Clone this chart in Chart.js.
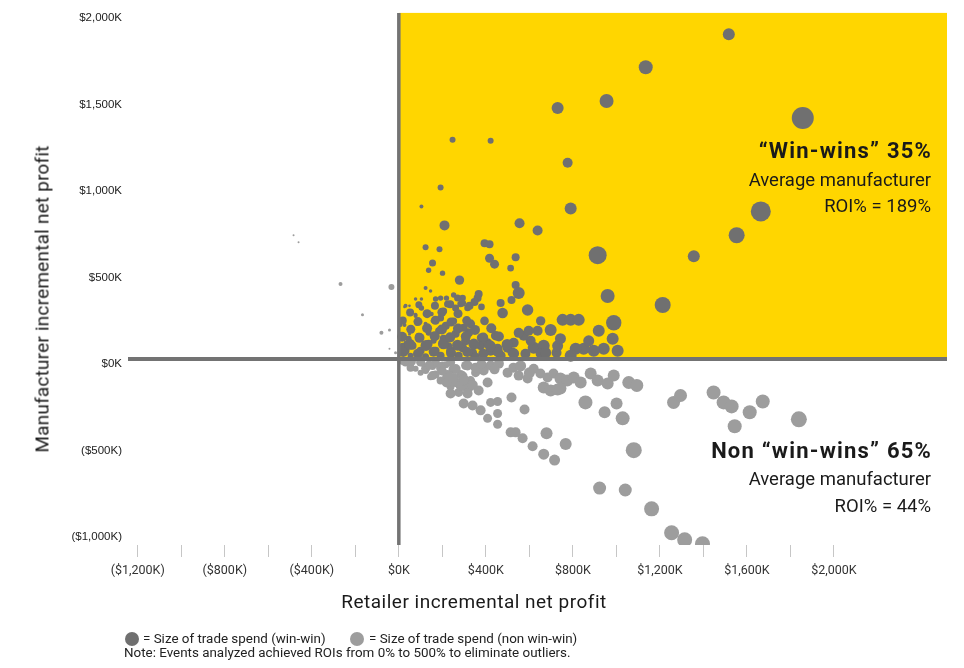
<!DOCTYPE html>
<html>
<head>
<meta charset="utf-8">
<title>Trade promotion win-wins</title>
<script src="https://cdn.jsdelivr.net/npm/chart.js"></script>
<style>
  body { margin: 0; background: #fff; }
  #wrap { position: relative; width: 964px; height: 668px; font-family: Roboto, 'Noto Sans', sans-serif; color: #1a1a1a; overflow: hidden; }
  #chart { position: absolute; left: 0; top: 0; }
  .txt { position: absolute; white-space: nowrap; }
  #y-title { left: 42px; top: 299px; font-size: 19px; letter-spacing: 0.2px; transform: translate(-50%, -50%) rotate(-90deg); }
  #x-title { left: 474px; top: 589px; font-size: 19px; letter-spacing: 0.5px; line-height: 26px; transform: translateX(-50%); }
  .callout { right: 33px; text-align: right; line-height: 26px; font-size: 18.5px; }
  .callout.head { font-size: 22px; font-weight: 700; letter-spacing: 1.2px; right: 32px; }
  .dot { position: absolute; width: 14px; height: 14px; border-radius: 50%; }
  .small { font-size: 13.4px; line-height: 16px; color: #222; }
</style>
</head>
<body>
<div id="wrap">
  <canvas id="chart" width="964" height="668"></canvas>

  <div class="txt" id="y-title">Manufacturer incremental net profit</div>
  <div class="txt" id="x-title">Retailer incremental net profit</div>

  <div class="txt callout head" style="top:138px">“Win-wins” 35%</div>
  <div class="txt callout" style="top:167px">Average manufacturer</div>
  <div class="txt callout" style="top:193px">ROI% = 189%</div>

  <div class="txt callout head" style="top:438px">Non “win-wins” 65%</div>
  <div class="txt callout" style="top:466px">Average manufacturer</div>
  <div class="txt callout" style="top:493px">ROI% = 44%</div>

  <div class="dot" style="left:125px; top:632px; background:#707070"></div>
  <div class="txt small" style="left:143px; top:631px">= Size of trade spend (win-win)</div>
  <div class="dot" style="left:350px; top:632px; background:#9d9d9d"></div>
  <div class="txt small" style="left:369px; top:631px">= Size of trade spend (non win-win)</div>
  <div class="txt small" style="left:124px; top:645px">Note: Events analyzed achieved ROIs from 0% to 500% to eliminate outliers.</div>
</div>

<script>
// Events, all in $K: retailer profit (x), manufacturer profit (y), trade spend (bubble size)
const winRetailer = [
  1517, 1135, 730, 955, 1857, 247, 422, 776, 192, 790, 1664, 104, 1553, 210, 555, 638, 914, 1356, 960, 1213,
  123, 187, 394, 417, 417, 440, 537, 514, 155, 137, 201, 279, 537, 551, 518, 468, 477, 592, 394, 380,
  362, 348, 293, 316, 284, 252, 219, 192, 123, 146, 77, 104, 104, 26, 49, 150, 77, 81, 8, 26,
  652, 698, 753, 790, 827, 988, 919, 983, 1006, 942, 896, 850, 813, 790, 620, 666, 606, 574, 551, 638,
  597, 528, 500, 454, 422, 445, 380, 330, 321, 307, 293, 261, 275, 252, 293, 270, 224, 206, 192, 367,
  325, 169, 100, 137, 155, 123, 90, 77, 31, 31, 63, 100, 137, 169, 206, 238, 261, 216, 183, 137,
  90, 45, 17, 54, 123, 192, 275, 339, 376, 353, 408, 468, 523, 582, 652, 725, 160, 229, 298, 49,
  17, 31,
  20, 88, 160, 240, 315, 388, 455, 530, 50, 125, 205, 270, 345, 420, 498,
  15, 95, 165, 236, 308, 388, 460, 55, 130, 198, 272, 350, 425,
  18, 88, 168, 240, 312, 52, 130, 198, 272, 92, 166, 236,
  675, 730, 873, 743
];
const winManufacturer = [
  1876, 1686, 1451, 1491, 1393, 1267, 1261, 1134, 991, 870, 853, 881, 715, 772, 784, 743, 600, 594, 364, 312,
  646, 634, 669, 663, 582, 548, 588, 525, 554, 513, 496, 456, 427, 381, 341, 324, 266, 283, 220, 301,
  352, 329, 352, 295, 318, 370, 352, 352, 410, 393, 347, 347, 295, 301, 307, 260, 255, 203, 197, 197,
  220, 168, 226, 226, 226, 209, 163, 117, 48, 59, 48, 59, 59, 19, 65, 76, 105, 134, 151, 163,
  163, 94, 65, 59, 48, 134, 122, 203, 151, 105, 65, 295, 260, 220, 324, 352, 318, 278, 237, 375,
  307, 347, 295, 260, 220, 203, 209, 249, 307, 48, 77, 48, 88, 48, 117, 48, 146, 192, 163, 151,
  134, 117, 77, 19, 13, 19, 19, 36, 77, 13, 94, 19, 36, 30, 30, 36, 105, 77, 180, 145,
  122, 94,
  40, 30, 42, 34, 40, 30, 40, 32, 85, 78, 88, 80, 86, 76, 84,
  128, 122, 132, 125, 130, 124, 130, 172, 178, 170, 176, 168, 178,
  222, 216, 224, 214, 222, 268, 262, 270, 262, 314, 308, 316,
  36, 76, 105, 117
];
const winSpend = [
  144, 196, 144, 196, 484, 36, 36, 100, 36, 144, 400, 16, 256, 100, 100, 100, 324, 144, 196, 256,
  36, 36, 64, 64, 81, 81, 64, 44, 49, 29, 29, 88, 64, 144, 64, 64, 112, 130, 74, 44,
  64, 64, 44, 44, 44, 29, 29, 29, 16, 12, 12, 12, 29, 7, 7, 21, 16, 16, 16, 16,
  88, 144, 144, 144, 144, 237, 144, 144, 144, 144, 144, 144, 144, 144, 144, 144, 100, 100, 100, 100,
  100, 100, 100, 100, 100, 88, 88, 81, 81, 81, 81, 49, 49, 49, 49, 49, 49, 49, 49, 64,
  64, 29, 16, 16, 16, 16, 16, 16, 16, 64, 64, 64, 64, 64, 64, 81, 64, 64, 49, 36,
  36, 36, 36, 36, 49, 64, 64, 81, 81, 64, 81, 100, 100, 100, 100, 100, 36, 49, 64, 9,
  36, 16,
  100, 100, 100, 100, 100, 100, 100, 100, 121, 121, 121, 121, 121, 121, 121,
  100, 100, 100, 100, 100, 100, 100, 81, 100, 100, 100, 100, 100,
  64, 81, 81, 81, 81, 64, 81, 81, 81, 49, 64, 64,
  121, 121, 121, 121
];

const nonRetailer = [
  -484, -461, -268, -34, -167, -43, -80, -43, -15,
  17, 54, 77, 109, 123, 155, 169, 201, 216, 247, 261, 284, 238, 192, 146, 100, 307, 330, 275, 216, 353, 298,
  284, 321, 238, 316, 367, 408, 298, 339, 376, 422, 454, 518, 578, 454, 408, 454, 514, 537, 569, 615,
  679, 666, 716, 767, 316, 353, 390, 422, 460, 500, 527, 551, 592, 620, 651, 684, 711, 743, 774, 804,
  836, 882, 914, 960, 988, 1057, 1094, 666, 698, 730, 858, 946, 1001, 1029, 1080, 923, 1041, 1162, 1254, 1314,
  1396, 1263, 1295, 1447, 1493, 1530, 1544, 1613, 1673, 1839, 743,
  31, 100, 169, 238, 54, 123, 192, 261, 155, 224, 293, 220, 275, 380, 440, 560, 600,
  10, 60, 140, 200, 250, 300, 340
];
const nonManufacturer = [
  715, 674, 433, 416, 255, 168, 151, 59, 36,
  -21, -36, -56, -27, -67, -44, -90, -38, -113, -61, -136, -90, -159, -125, -102, -79, -38, -125, -193, -33, -79, -159,
  -154, -165, -200, -200, -182, -136, -257, -269, -297, -251, -246, -223, -292, -315, -343, -377, -424, -424, -458, -504,
  -429, -550, -584, -492, -38, -50, -67, -38, -27, -79, -50, -96, -113, -56, -84, -107, -84, -113, -125, -107,
  -136, -84, -125, -142, -96, -136, -153, -165, -182, -176, -251, -308, -257, -343, -527, -746, -757, -866, -1004, -1045,
  -1068, -251, -211, -194, -251, -274, -389, -308, -246, -349, -171,
  -21, -18, -24, -20, -50, -56, -52, -58, -96, -92, -100, -136, -140, -30, -60, -40, -80,
  -10, -15, -35, -70, -110, -120, -150
];
const nonSpend = [
  4, 4, 16, 36, 9, 9, 16, 4, 9,
  25, 36, 36, 36, 49, 49, 64, 64, 64, 64, 81, 81, 64, 64, 49, 36, 81, 81, 81, 49, 81, 81,
  100, 100, 100, 100, 100, 100, 100, 100, 100, 81, 81, 100, 100, 81, 81, 81, 100, 100, 100, 100,
  144, 121, 121, 144, 100, 100, 100, 100, 100, 100, 100, 100, 100, 100, 100, 100, 100, 144, 144, 144,
  144, 144, 144, 144, 144, 169, 169, 144, 144, 144, 196, 144, 144, 196, 256, 169, 169, 225, 225, 225,
  225, 169, 169, 196, 196, 196, 196, 196, 196, 256, 144,
  64, 81, 81, 81, 64, 81, 81, 100, 81, 100, 100, 100, 100, 100, 100, 121, 121,
  49, 64, 81, 81, 100, 100, 100
];

const xTickValues = [-1200, -1000, -800, -600, -400, -200, 0, 200, 400, 600, 800, 1000, 1200, 1400, 1600, 1800, 2000];
const yTickValues = [-1000, -500, 0, 500, 1000, 1500, 2000];

const winColor = '#707070';
const nonColor = '#9d9d9d';
const quadrantYellow = '#ffd600';
const axisColor = '#737373';

function money(v) {
  const s = Math.abs(v).toLocaleString('en-US');
  return v < 0 ? '($' + s + 'K)' : '$' + s + 'K';
}

// bubble area follows trade spend
function toPoints(xs, ys, spend) {
  return xs.map((x, i) => ({ x: x, y: ys[i], r: Math.sqrt(spend[i]) / 2 }));
}

// yellow win-win quadrant behind the bubbles, zero lines on top
const quadrantPlugin = {
  id: 'quadrant',
  beforeDatasetsDraw(chart) {
    const { ctx, chartArea, scales } = chart;
    const x0 = scales.x.getPixelForValue(0);
    const y0 = scales.y.getPixelForValue(0);
    ctx.save();
    ctx.fillStyle = quadrantYellow;
    ctx.fillRect(x0, chartArea.top, chartArea.right - x0, y0 - chartArea.top);
    ctx.restore();
  },
  afterDatasetsDraw(chart) {
    const { ctx, chartArea, scales } = chart;
    const x0 = scales.x.getPixelForValue(0);
    const y0 = scales.y.getPixelForValue(0);
    ctx.save();
    ctx.strokeStyle = axisColor;
    ctx.lineWidth = 4;
    ctx.beginPath();
    ctx.moveTo(chartArea.left, y0);
    ctx.lineTo(chartArea.right, y0);
    ctx.stroke();
    ctx.lineWidth = 3.5;
    ctx.beginPath();
    ctx.moveTo(x0, chartArea.top);
    ctx.lineTo(x0, chartArea.bottom);
    ctx.stroke();
    ctx.restore();
  }
};

new Chart(document.getElementById('chart'), {
  type: 'bubble',
  data: {
    datasets: [
      { label: 'Non win-win', data: toPoints(nonRetailer, nonManufacturer, nonSpend), backgroundColor: nonColor, borderWidth: 0 },
      { label: 'Win-win', data: toPoints(winRetailer, winManufacturer, winSpend), backgroundColor: winColor, borderWidth: 0 }
    ]
  },
  options: {
    responsive: false,
    animation: false,
    events: [],
    layout: { padding: { top: 10, right: 17, left: 0, bottom: 0 } },
    plugins: { legend: { display: false }, tooltip: { enabled: false } },
    scales: {
      x: {
        type: 'linear',
        min: -1245,
        max: 2520,
        afterBuildTicks: s => { s.ticks = xTickValues.map(v => ({ value: v })); },
        afterFit: s => { s.height = 123; },
        border: { display: false },
        grid: { drawOnChartArea: false, drawTicks: true, tickLength: 12, color: '#c6c6c6', lineWidth: 1 },
        ticks: {
          autoSkip: false,
          maxRotation: 0,
          padding: 6,
          color: '#333',
          font: { family: 'Roboto', size: 12.5 },
          callback: v => (v % 400 === 0 ? money(v) : '')
        }
      },
      y: {
        type: 'linear',
        min: -1075,
        max: 2000,
        afterBuildTicks: s => { s.ticks = yTickValues.map(v => ({ value: v })); },
        afterFit: s => { s.width = 128; },
        border: { display: false },
        grid: { display: false, drawTicks: false },
        ticks: {
          padding: 6,
          labelOffset: 5,
          color: '#222',
          font: { family: "'Liberation Sans', Arial", size: 11.5 },
          callback: v => money(v)
        }
      }
    }
  },
  plugins: [quadrantPlugin]
});
</script>
</body>
</html>
